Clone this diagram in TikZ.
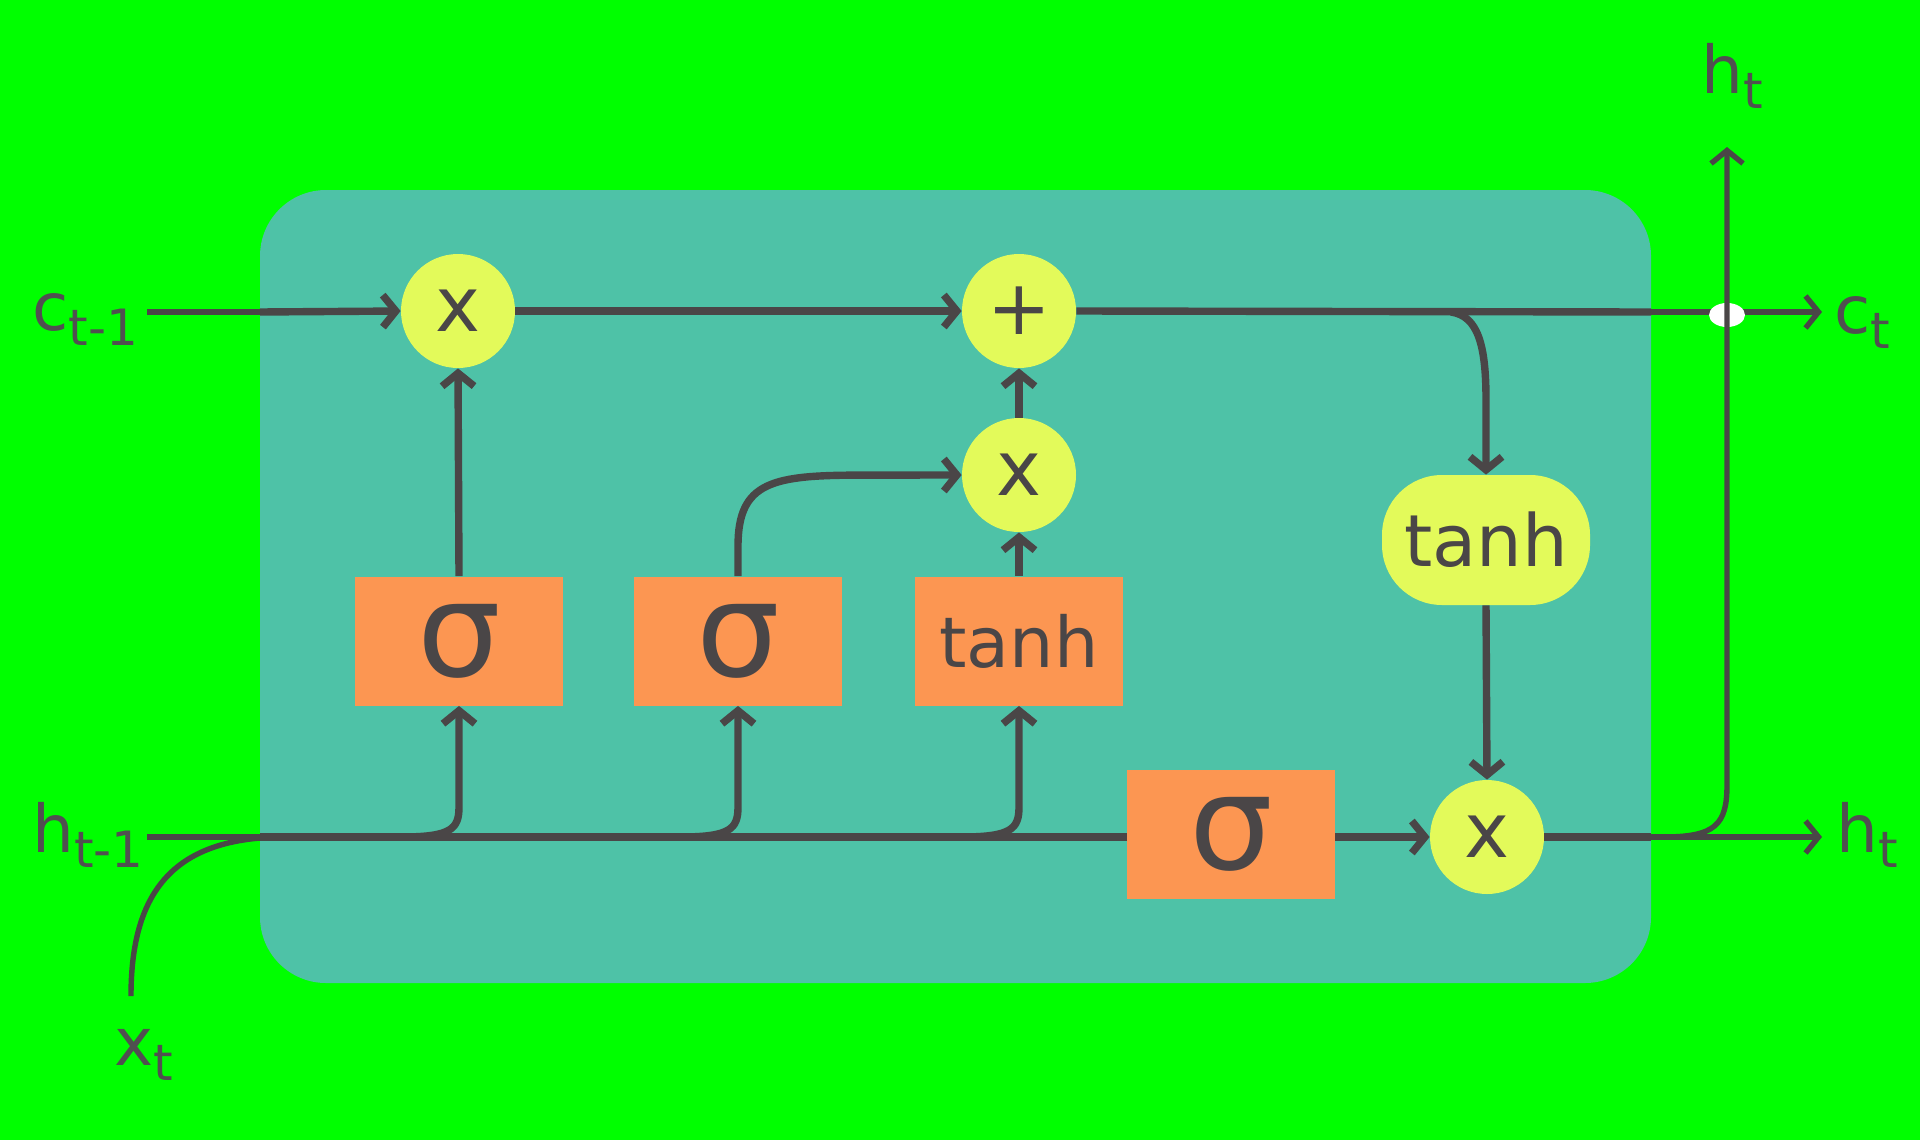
\documentclass[tikz,border=0pt]{standalone}
\usepackage{fontspec}
\setmainfont{DejaVu Sans}
\usetikzlibrary{arrows.meta,calc}
\definecolor{bggreen}{HTML}{00FF00}
\definecolor{tealc}{HTML}{4EC2A7}
\definecolor{orangec}{HTML}{FC9652}
\definecolor{yelc}{HTML}{E3FA5A}
\definecolor{darkc}{HTML}{4A4647}
\definecolor{lblc}{HTML}{505050}
\newcommand{\lsub}[1]{\raisebox{-7.5pt}{\fontsize{25}{25}\selectfont #1}}
\begin{document}
\begin{tikzpicture}[x=0.5pt,y=-0.5pt,
  >={Straight Barb[length=6.5pt,width=16pt,line width=0pt 1]},
  thickln/.style={draw=darkc,line width=3.7pt},
  thinln/.style={draw=darkc,line width=2.7pt},
  opc/.style={circle,fill=yelc,minimum size=57pt,inner sep=0pt,text=darkc,font=\fontsize{38}{38}\selectfont},
  gatebox/.style={rectangle,fill=orangec,minimum width=104pt,minimum height=64.5pt,inner sep=0pt,text=darkc},
  sigtxt/.style={font=\fontsize{66}{66}\selectfont},
  tanhtxt/.style={font=\fontsize{35}{35}\selectfont},
  pillbox/.style={rectangle,rounded corners=30pt,fill=yelc,minimum width=104pt,minimum height=65pt,inner sep=0pt,text=darkc,font=\fontsize{36}{36}\selectfont},
  lbl/.style={inner sep=0pt,anchor=base west,text=lblc,font=\fontsize{33}{33}\selectfont}]
\fill[bggreen] (0,0) rectangle (1920,1140);
\useasboundingbox (0,0) rectangle (1920,1140);
\fill[tealc,rounded corners=33pt] (260,190) rectangle (1651,983);

% operation nodes
\node[opc] (fx) at (458,311) {x};
\node[opc] (pl) at (1019,311) {+};
\node[opc] (ix) at (1019,475) {x};
\node[opc] (ox) at (1487,837) {x};
\node[pillbox] (th2) at (1486,540) {tanh};

% gate boxes
\node[gatebox,sigtxt] (s1) at (459,641) {σ};
\node[gatebox,sigtxt] (s2) at (738,641) {σ};
\node[gatebox,tanhtxt] (tb) at (1019,641) {tanh};
\node[gatebox,sigtxt] (s3) at (1231,834) {σ};

% labels
\node[lbl] (lc0) at (32,330) {c\lsub{t-1}};
\node[lbl] (lh0) at (32,852) {h\lsub{t-1}};
\node[lbl] (lx) at (114,1065) {x\lsub{t}};
\node[lbl] (lht) at (1701,93) {h\lsub{t}};
\node[lbl] (lct) at (1834,333) {c\lsub{t}};
\node[lbl] (lhr) at (1836,852) {h\lsub{t}};

% coordinates
\coordinate (cin) at (147,312);
\coordinate (cedge) at (260,312);
\coordinate (cout) at (1651,312);
\coordinate (cend) at (1822,312);
\coordinate (cbr) at (1451,312);
\coordinate (hin0) at (147,837);
\coordinate (hedge) at (260,837);
\coordinate (hedge2) at (1651,837);
\coordinate (hend) at (1822,837);
\coordinate (htop) at (1727,147);
\coordinate (xb) at (131,996);

% cell state line
\draw[thinln] (cin) -- (cedge);
\draw[thickln,->] (cedge) -- (fx.west);
\draw[thickln,->] (fx.east) -- (pl.west);
\draw[thickln] (pl.east) -- (cout);
\draw[thinln,->] (cout) -- (cend);
\fill[white] (1727,315) ellipse [x radius=9pt,y radius=6pt];

% hidden/input line
\draw[thinln] (hin0) -- (hedge);
\draw[thinln] (xb) .. controls (131,890) and (175,837) .. (285,837);
\draw[thickln] (hedge) -- (hedge -| s3.west);
\foreach \g in {s1,s2,tb}{
  \draw[thickln,->] ($(hedge -| \g.south)+(-58,0)$) .. controls ($(hedge -| \g.south)+(-8,0)$) and ($(hedge -| \g.south)+(0,-8)$) .. ($(hedge -| \g.south)+(0,-30)$) -- (\g.south);
}

% gates to operations
\draw[thickln,->] (s1.north) -- (fx.south);
\draw[thickln,->] (s2.north) -- ($(s2.north)+(0,-30)$) .. controls ($(s2.north)+(0,-95)$) and ($(s2.north)+(35,-101)$) .. ($(s2.north)+(125,-101)$) -- (ix.west);
\draw[thickln,->] (tb.north) -- (ix.south);
\draw[thickln,->] (ix.north) -- (pl.south);
\draw[thickln,->] (cbr) .. controls (1478,316) and (1486,345) .. (1486,400) -- (th2.north);
\draw[thickln,->] (th2.south) -- (ox.north);
\draw[thickln,->] (s3.east |- ox.west) -- (ox.west);

% output
\draw[thickln] (ox.east) -- (hedge2);
\draw[thinln,->] (hedge2) -- (hend);
\draw[thinln,->] (hedge2) -- (1663,837) .. controls (1715,837) and (1727,825) .. (1727,785) -- (htop);
\end{tikzpicture}
\end{document}
